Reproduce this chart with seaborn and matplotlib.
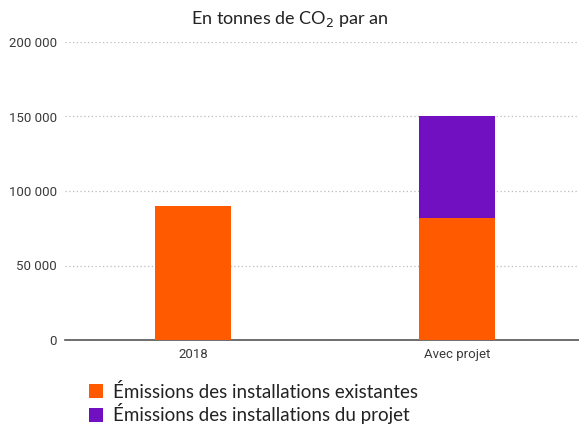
import matplotlib
matplotlib.use("Agg")
import matplotlib.pyplot as plt
import seaborn as sns
import pandas as pd
from matplotlib.patches import Patch
from matplotlib.ticker import FuncFormatter

categories = ["2018", "Avec projet"]
existantes = [90000, 82000]
projet = [0, 68000]
series_labels = ["Émissions des installations existantes", "Émissions des installations du projet"]
yticks = [0, 50000, 100000, 150000, 200000]

ORANGE = "#FF5A00"
PURPLE = "#7010C0"

sns.set_theme(style="white")
plt.rcParams['font.family'] = ['Lato', 'DejaVu Sans']

df = pd.DataFrame({"cat": categories,
                   "exist": existantes,
                   "total": [a + b for a, b in zip(existantes, projet)]})

fig = plt.figure(figsize=(5.79, 4.25), dpi=100)
ax = fig.add_axes([65/579, 1 - 340/425, 1 - 65/579, (340 - 42)/425])

sns.barplot(data=df, x="cat", y="total", color=PURPLE, width=0.29, ax=ax,
            saturation=1, zorder=3, linewidth=0)
sns.barplot(data=df, x="cat", y="exist", color=ORANGE, width=0.29, ax=ax,
            saturation=1, zorder=4, linewidth=0)

ax.set_ylim(0, 200000)
ax.set_xlim(-0.485, 1.462)
ax.set_yticks(yticks)
ax.yaxis.set_major_formatter(FuncFormatter(lambda v, p: f"{int(v):,}".replace(",", " ")))
ax.set_xlabel("")
ax.set_ylabel("")
for s in ["top", "right", "left"]:
    ax.spines[s].set_visible(False)
ax.spines["bottom"].set_color("#555555")
ax.spines["bottom"].set_linewidth(1.2)
ax.grid(axis="y", linestyle=(0, (1, 2)), color="#bbbbbb", linewidth=0.9, zorder=0)
ax.set_axisbelow(True)
ax.tick_params(axis="y", length=0, pad=6, labelsize=9.5, labelcolor="#3a3a3a")
ax.tick_params(axis="x", length=0, pad=6, labelsize=9.5, labelcolor="#3a3a3a")
for lab in ax.get_yticklabels() + ax.get_xticklabels():
    lab.set_family(['Roboto', 'DejaVu Sans'])

fig.text(0.5, 1 - 19/425, "En tonnes de CO$_2$ par an", ha="center", va="center",
         fontsize=13, color="#222222")

handles = [Patch(facecolor=ORANGE, edgecolor="none"), Patch(facecolor=PURPLE, edgecolor="none")]
fig.legend(handles, series_labels, loc="lower left", bbox_to_anchor=(0.135, -0.025),
           frameon=False, fontsize=13.5, handlelength=0.75, handleheight=0.75,
           handletextpad=0.5, labelspacing=0.15, borderaxespad=0.2, labelcolor="#222222")

fig.savefig("out.png", dpi=100)
